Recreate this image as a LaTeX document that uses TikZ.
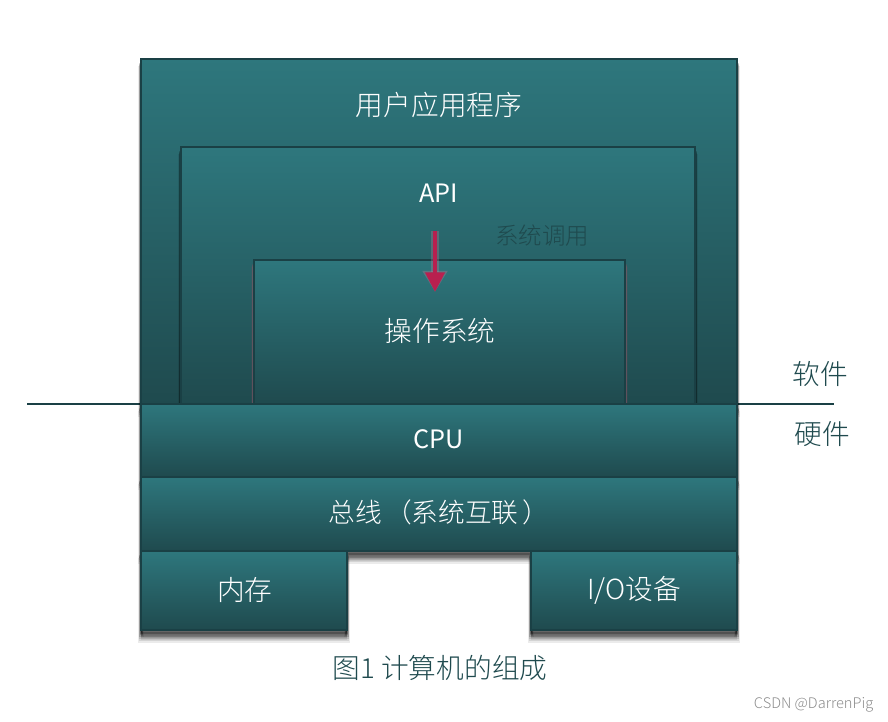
\documentclass[tikz,border=0pt]{standalone}
\usepackage{fontspec}
\setmainfont{Noto Sans CJK SC}[UprightFont=* Light]
\newfontfamily\latinfont{Noto Sans CJK SC}
\usepackage{xcolor}
\usetikzlibrary{positioning}
\usetikzlibrary{arrows.meta}
\definecolor{tealtop}{HTML}{2E777D}
\definecolor{tealbot}{HTML}{1F4A4E}
\definecolor{tealedge}{HTML}{1A4045}
\definecolor{callred}{HTML}{B8204F}
\tikzset{
	softshadow/.style={
		preaction={fill=#1,draw=#1,opacity=.08,line width=4pt,transform canvas={yshift=-7pt}},
		preaction={fill=#1,draw=#1,opacity=.10,line width=3.4pt,transform canvas={yshift=-6pt}},
		preaction={fill=#1,draw=#1,opacity=.13,line width=2.8pt,transform canvas={yshift=-5pt}},
		preaction={fill=#1,draw=#1,opacity=.16,line width=2.2pt,transform canvas={yshift=-4pt}},
		preaction={fill=#1,draw=#1,opacity=.18,line width=1.6pt,transform canvas={yshift=-3pt}},
		preaction={fill=#1,draw=#1,opacity=.20,line width=1pt,transform canvas={yshift=-2pt}}},
	tealbox/.style={rectangle,draw=tealedge,line width=1.1pt,top color=tealtop,bottom color=tealbot,inner sep=0pt,outer sep=0pt,softshadow=black},
	whitetext/.style={text=white,font=\fontsize{19.7pt}{22pt}\selectfont,inner sep=0pt},
	darktext/.style={text=tealbot,font=\fontsize{19.7pt}{22pt}\selectfont,inner sep=0pt},
}
\begin{document}
\begin{tikzpicture}
		\useasboundingbox (0,0) rectangle (22.2,18.05);
		\coordinate (lineleft) at (0.675,7.95);
		\coordinate (lineright) at (20.85,7.95);
		\draw [tealedge,line width=1.4pt] (lineleft) -- (lineright);
		% software
		\node [tealbox,anchor=south west,minimum width=14.9cm,minimum height=8.625cm] (app) at (3.525,7.95) {};
		\node [tealbox,above=0pt of app.south,xshift=-0.025cm,minimum width=12.85cm,minimum height=6.425cm] (api) {};
		\node [tealbox,softshadow=callred!50!white,above=0pt of app.south,xshift=0.0125cm,minimum width=9.275cm,minimum height=3.6cm] (os) {};
		% hardware
		\node [tealbox,below=0pt of app,minimum width=14.9cm,minimum height=1.825cm] (cpu) {};
		\node [tealbox,below=0pt of cpu,minimum width=14.9cm,minimum height=1.85cm] (bus) {};
		\node [tealbox,anchor=north west,minimum width=5.15cm,minimum height=1.975cm] (mem) at (bus.south west) {};
		\node [tealbox,anchor=north east,minimum width=5.15cm,minimum height=1.975cm] (io) at (bus.south east) {};
		% labels
		\node [whitetext] (applabel) at (10.975,15.42) {用户应用程序};
		\node [whitetext,font=\latinfont\fontsize{18pt}{22pt}\selectfont] (apilabel) at (10.97,13.23) {API};
		\node [whitetext] (oslabel) at (11,9.78) {操作系统};
		\node [whitetext,font=\latinfont\fontsize{18pt}{22pt}\selectfont] (cpulabel) at (10.975,7.07) {CPU};
		\node [whitetext,font=\fontsize{19pt}{22pt}\selectfont] (buslabel) at (10.97,5.23) {总线\hspace{2pt}（系统互联\hspace{2.5pt}）};
		\node [whitetext] (memlabel) at (6.12,3.3) {内存};
		\node [whitetext] (iolabel) at (15.85,3.3) {I/O设备};
		\node [darktext,font=\fontsize{16.7pt}{20pt}\selectfont] (calllabel) at (13.56,12.15) {系统调用};
		\node [darktext] (softlabel) at (20.5,8.7) {软件};
		\node [darktext] (hardlabel) at (20.55,7.2) {硬件};
		\node [darktext] (caption) at (11,1.35) {图1 计算机的组成};
		\node [text=black!45,font=\fontsize{10.4pt}{12pt}\selectfont,inner sep=0pt] (mark) at (20.34,0.42) {CSDN @DarrenPig};
		% system call
		\coordinate (callstart) at (10.875,12.28);
		\coordinate (callend) at (10.875,10.75);
		\draw [callred!60,draw opacity=.3,line width=5pt,-{Triangle[width=17pt,length=15pt]}] (callstart) -- (callend);
		\draw [callred,line width=3pt,-{Triangle[width=13.5pt,length=14pt]}] (callstart) -- (callend);
	\end{tikzpicture}
\end{document}
